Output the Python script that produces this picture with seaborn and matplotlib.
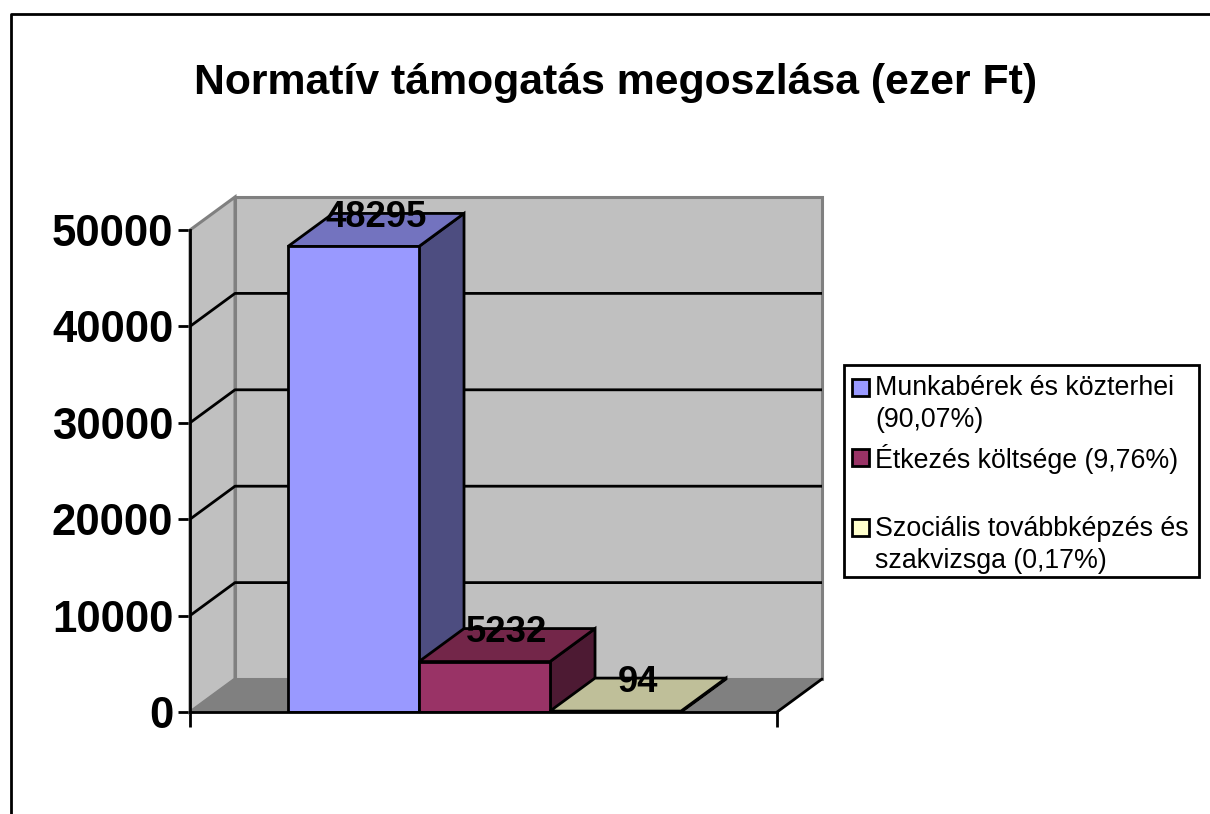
import matplotlib
matplotlib.use('Agg')
import matplotlib.pyplot as plt
import seaborn as sns
from matplotlib.patches import Polygon, Rectangle

# data
categories = ['Munkabérek és közterhei', 'Étkezés költsége', 'Szociális továbbképzés és szakvizsga']
values = [48295, 5232, 94]
legend_labels = ['Munkabérek és közterhei\n(90,07%)', 'Étkezés költsége (9,76%)', 'Szociális továbbképzés és\nszakvizsga (0,17%)']
front_colors = ['#9999FF', '#993366', '#FFFFCC']
top_colors = ['#7373BF', '#732649', '#BFBF99']
side_colors = ['#4D4D80', '#4D1A33', '#80806A']
y_ticks = [0, 10000, 20000, 30000, 40000, 50000]

title = 'Normatív támogatás megoszlása (ezer Ft)'

sns.set_style('white')
plt.rcParams['font.family'] = ['Liberation Sans', 'DejaVu Sans']

W, H = 1210, 814
LW = 2
fig = plt.figure(figsize=(W / 100, H / 100), dpi=100)

# plot area in pixels, the back wall sticks out to the right and top
left, right, top, bottom = 190, 822, 197, 712
ax = fig.add_axes([left / W, 1 - bottom / H, (right - left) / W, (bottom - top) / H])

sns.barplot(x=categories, y=values, hue=categories, palette=front_colors, width=1, dodge=False,
            saturation=1, edgecolor='black', linewidth=LW, legend=False, ax=ax)

# scales: one category is 131 px, 50000 is 482 px
x_left = -1.248
x_end = 3.233
x_right = 3.576
y_max = 53423
dx = 45 / 131
dy = 3423
ax.set_xlim(x_left, x_right)
ax.set_ylim(0, y_max)

# walls and floor
wall = 'silver'
edge = 'gray'
ax.add_patch(Polygon([(x_left + dx, dy), (x_right, dy), (x_right, 50000 + dy), (x_left + dx, 50000 + dy)],
                     fc=wall, ec=edge, lw=2.2, zorder=0.5, clip_on=False))
ax.add_patch(Polygon([(x_left, 0), (x_left + dx, dy), (x_left + dx, 50000 + dy), (x_left, 50000)],
                     fc=wall, ec=edge, lw=2.2, zorder=0.6, clip_on=False))
ax.add_patch(Polygon([(x_left, 0), (x_end, 0), (x_right, dy), (x_left + dx, dy)],
                     fc=edge, ec=edge, lw=1, zorder=0.7, clip_on=False))
ax.plot([x_end, x_right], [0, dy], color='black', lw=LW, zorder=1.5, clip_on=False)

# grid lines bend round the side wall
for t in y_ticks[1:-1]:
    ax.plot([x_left, x_left + dx, x_right], [t, t + dy, t + dy], color='black', lw=LW, zorder=1)

# 3d sides of the bars
for i, bar in enumerate(ax.patches[:len(values)]):
    z = 3 + i
    x0 = bar.get_x()
    x1 = x0 + bar.get_width()
    v = values[i]
    bar.set_zorder(z + 0.5)
    ax.add_patch(Polygon([(x1, 0), (x1 + dx, dy), (x1 + dx, v + dy), (x1, v)],
                         fc=side_colors[i], ec='black', lw=LW, zorder=z))
    ax.add_patch(Polygon([(x0, v), (x1, v), (x1 + dx, v + dy), (x0 + dx, v + dy)],
                         fc=top_colors[i], ec='black', lw=LW, zorder=z))
    ax.text((x0 + x1 + dx) / 2, v + dy, str(v), ha='center', va='center_baseline',
            fontsize=26.3, fontweight='bold', color='black', zorder=10)

# axes
sns.despine(ax=ax, top=True, right=True)
ax.spines['left'].set_bounds(0, 50000)
ax.spines['bottom'].set_bounds(x_left, x_end)
for s in ['left', 'bottom']:
    ax.spines[s].set_linewidth(LW)
    ax.spines[s].set_color('black')
    ax.spines[s].set_zorder(9)
ax.set_yticks(y_ticks)
ax.set_xticks([x_left, x_end], labels=['', ''])
ax.tick_params(axis='y', left=True, length=8.6, width=LW, color='black', pad=3.5, labelsize=31.5, labelcolor='black')
ax.tick_params(axis='x', bottom=True, length=10.8, width=LW, color='black')
for lab in ax.get_yticklabels():
    lab.set_fontweight('bold')
ax.set_xlabel('')
ax.set_ylabel('')
ax.patch.set_alpha(0)

fig.suptitle(title, x=616 / W, y=1 - 83 / H, ha='center', va='center', fontsize=30.8,
             fontweight='bold', color='black')

# page overlay in pixel coordinates: chart frame and legend
page = fig.add_axes([0, 0, 1, 1], zorder=-1)
page.set_xlim(0, W)
page.set_ylim(H, 0)
page.axis('off')
page.plot([11, 11, W], [H, 14, 14], color='black', lw=LW)

leg = fig.add_axes([0, 0, 1, 1], zorder=5)
leg.set_xlim(0, W)
leg.set_ylim(H, 0)
leg.axis('off')
leg.add_patch(Rectangle((844, 365), 355, 212, fc='white', ec='black', lw=LW))
swatch_y = [387, 457, 527]
text_y = [404, 459, 545]
for i, lab in enumerate(legend_labels):
    leg.add_patch(Rectangle((852, swatch_y[i] - 8.5), 17, 17, fc=front_colors[i], ec='black', lw=LW))
    leg.text(875, text_y[i], lab, ha='left', va='center', fontsize=19.3, linespacing=1.34, color='black')

fig.savefig('out.png', dpi=100)
